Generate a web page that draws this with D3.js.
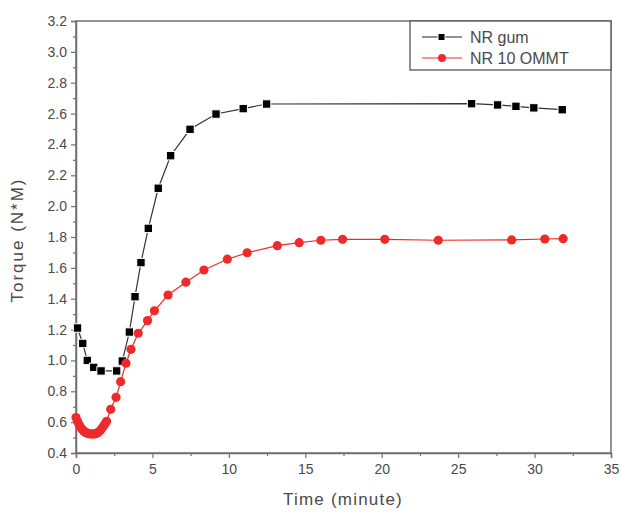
<!DOCTYPE html>
<html><head><meta charset="utf-8">
<script src="https://cdn.jsdelivr.net/npm/d3@7"></script>
<style>body{margin:0;background:#fff}svg{display:block}text{font-family:"Liberation Sans",Arial,sans-serif}</style>
</head><body>
<svg id="c" width="622" height="513"></svg>
<script>
const gumTime = [0.1,0.44,0.74,1.16,1.64,2.66,3.03,3.49,3.86,4.25,4.73,5.38,6.19,7.46,9.16,10.94,12.47,25.88,27.58,28.78,29.95,31.81];
const gumTorque = [1.21,1.11,1.0,0.955,0.932,0.932,0.996,1.184,1.413,1.634,1.856,2.116,2.327,2.498,2.597,2.632,2.662,2.664,2.656,2.647,2.637,2.625];
const ommtTime = [0.0,0.1,0.2,0.3,0.4,0.5,0.6,0.7,0.8,0.9,1.0,1.1,1.2,1.3,1.4,1.5,1.6,1.7,1.8,1.9,2.0,2.27,2.62,2.92,3.27,3.6,4.07,4.68,5.13,6.02,7.19,8.37,9.9,11.2,13.17,14.6,16.02,17.44,20.2,23.7,28.5,30.67,31.87];
const ommtTorque = [0.63,0.605,0.585,0.567,0.553,0.543,0.535,0.53,0.526,0.524,0.523,0.523,0.524,0.526,0.53,0.537,0.547,0.56,0.575,0.59,0.605,0.683,0.761,0.862,0.982,1.072,1.176,1.258,1.322,1.424,1.507,1.586,1.656,1.698,1.744,1.763,1.779,1.785,1.785,1.779,1.781,1.787,1.789];
const xTicks = [0,5,10,15,20,25,30,35];
const yTicks = [0.4,0.6,0.8,1.0,1.2,1.4,1.6,1.8,2.0,2.2,2.4,2.6,2.8,3.0,3.2];
const seriesNames = ["NR gum","NR 10 OMMT"];

const svg = d3.select("#c");
const L=76,R=611,T=21,B=453;
const x = d3.scaleLinear().domain([0,35]).range([L,R]);
const y = d3.scaleLinear().domain([0.4,3.2]).range([B,T]);
const axisCol="#707070", txtCol="#4a4a4a";

svg.append("rect").attr("x",L).attr("y",T).attr("width",R-L).attr("height",B-T)
  .attr("fill","none").attr("stroke",axisCol).attr("stroke-width",1.5);

svg.append("g").attr("transform",`translate(0,${B})`)
  .call(d3.axisBottom(x).tickValues(xTicks).tickFormat(d3.format("d")).tickSize(5).tickPadding(6));
svg.append("g").attr("transform",`translate(0,${B})`)
  .call(d3.axisBottom(x).tickValues(d3.range(2.5,35,5)).tickFormat("").tickSize(3))
  .call(g=>g.select(".domain").remove());
svg.append("g").attr("transform",`translate(${L},0)`)
  .call(d3.axisLeft(y).tickValues(yTicks).tickFormat(d3.format(".1f")).tickSize(5).tickPadding(4));
svg.append("g").attr("transform",`translate(${L},0)`)
  .call(d3.axisLeft(y).tickValues(d3.range(0.5,3.2,0.2)).tickFormat("").tickSize(3))
  .call(g=>g.select(".domain").remove());
svg.selectAll(".domain").attr("stroke",axisCol).attr("stroke-width",1.5);
svg.selectAll(".tick line").attr("stroke",axisCol).attr("stroke-width",1.2);
svg.selectAll(".tick text").attr("fill",txtCol).style("font-size","14px");

svg.append("text").attr("x",343).attr("y",505).attr("text-anchor","middle")
  .attr("fill",txtCol).style("font-size","17px").style("letter-spacing","1.2px").text("Time (minute)");
svg.append("text").attr("transform","translate(23,240) rotate(-90)").attr("text-anchor","middle")
  .attr("fill",txtCol).style("font-size","17px").style("letter-spacing","2px").text("Torque (N*M)");

const line = d3.line().x(d=>x(d[0])).y(d=>y(d[1]));
const gum = gumTime.map((t,i)=>[t,gumTorque[i]]);
const om = ommtTime.map((t,i)=>[t,ommtTorque[i]]);
const red="#f02a2a";
svg.append("path").datum(gum).attr("d",line).attr("fill","none").attr("stroke","#333").attr("stroke-width",1.2);
svg.append("path").datum(om).attr("d",line).attr("fill","none").attr("stroke",red).attr("stroke-width",1.2);
svg.selectAll(".gm").data(gum).join("rect").attr("x",d=>x(d[0])-4.2).attr("y",d=>y(d[1])-4.2)
  .attr("width",8.4).attr("height",8.4).attr("fill","#000").attr("stroke","#fff").attr("stroke-width",1);
svg.selectAll(".om").data(om).join("circle").attr("cx",d=>x(d[0])).attr("cy",d=>y(d[1]))
  .attr("r",4.6).attr("fill",red);

const lg = svg.append("g");
lg.append("rect").attr("x",410).attr("y",T).attr("width",R-410).attr("height",49)
  .attr("fill","#fff").attr("stroke","#555").attr("stroke-width",1.3);
const cols=["#222",red];
seriesNames.forEach((n,i)=>{
  const yy=37+i*21;
  lg.append("line").attr("x1",422).attr("x2",462).attr("y1",yy).attr("y2",yy).attr("stroke",cols[i]).attr("stroke-width",1.2);
  if(i===0) lg.append("rect").attr("x",438).attr("y",yy-3.5).attr("width",7).attr("height",7).attr("fill","#000").attr("stroke","#fff");
  else lg.append("circle").attr("cx",442).attr("cy",yy).attr("r",4).attr("fill",red);
  lg.append("text").attr("x",470).attr("y",yy+5.5).attr("fill",txtCol).style("font-size","16px").text(n);
});
</script>
</body></html>
